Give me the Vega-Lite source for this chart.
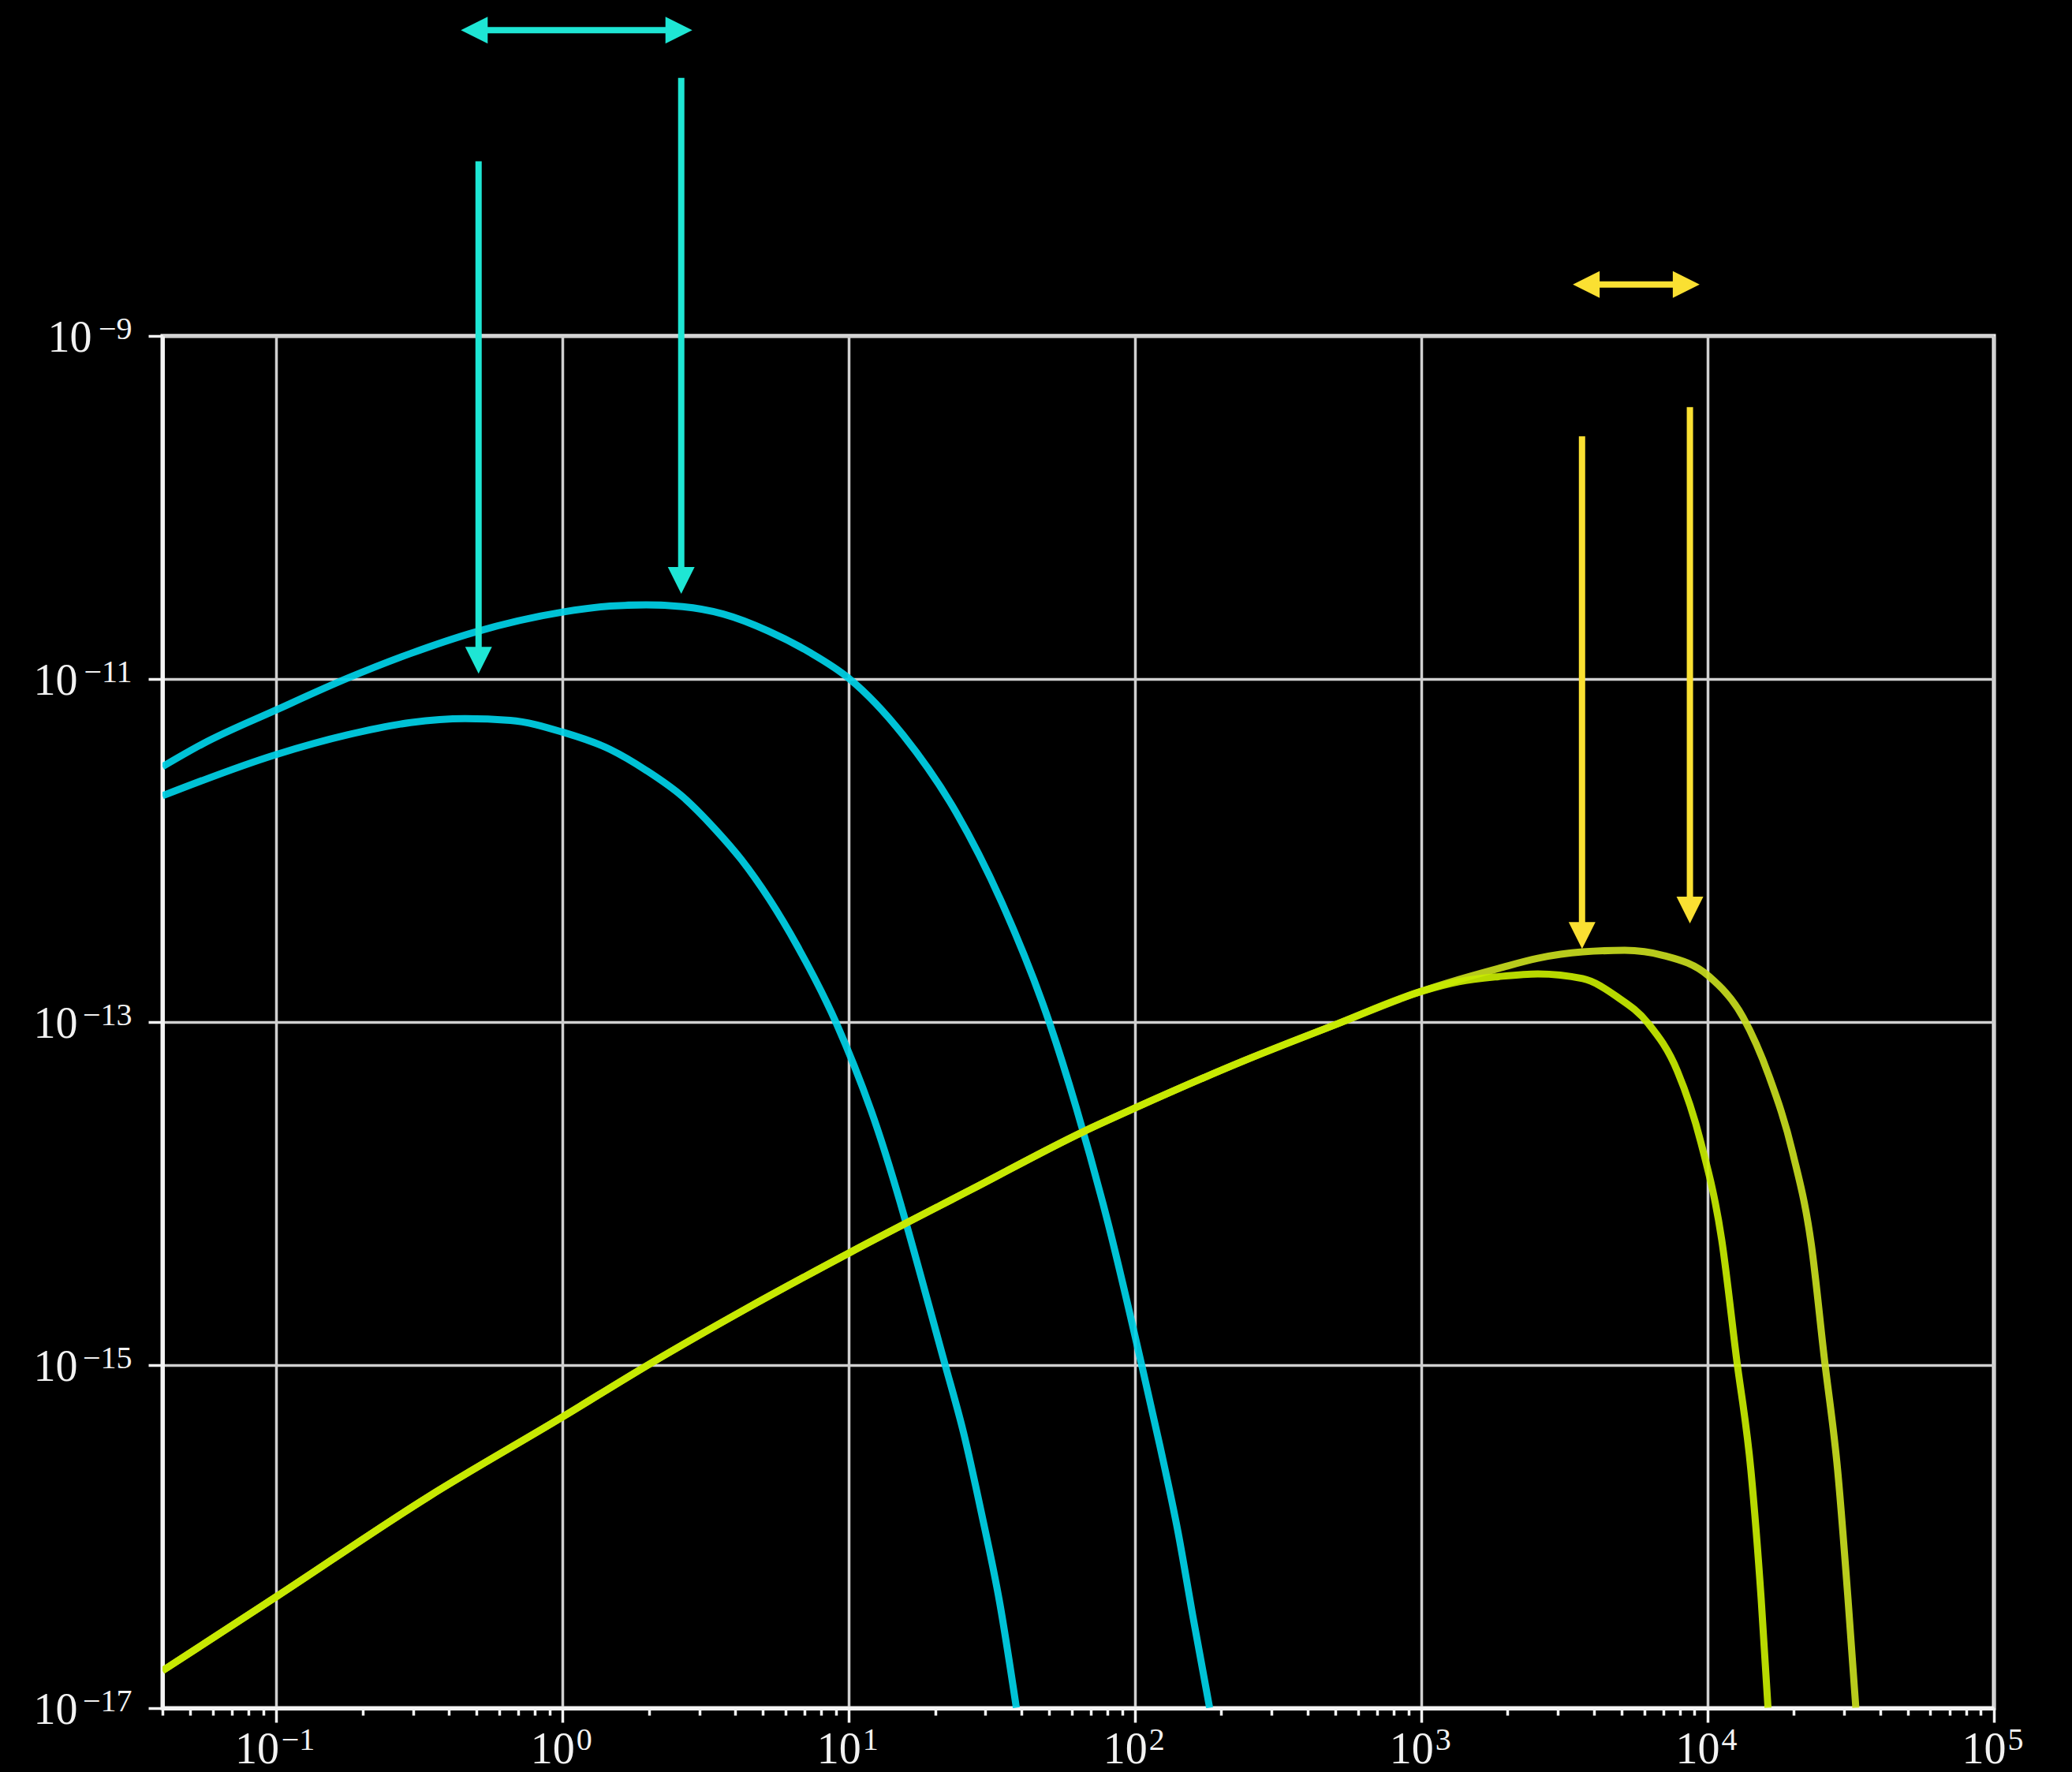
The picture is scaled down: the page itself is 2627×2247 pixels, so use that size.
{
  "$schema": "https://vega.github.io/schema/vega-lite/v6.json",
  "width": 2322,
  "height": 1740,
  "autosize": {"type": "none"},
  "padding": {"left": 206, "top": 426, "right": 99, "bottom": 81},
  "background": "#000000",
  "config": {
    "view": {"stroke": "#f4f4f4", "strokeWidth": 5},
    "axis": {
      "labelFont": "Liberation Serif",
      "labelColor": "#f2f2f2",
      "domainColor": "#f4f4f4",
      "domainWidth": 5,
      "tickColor": "#f4f4f4",
      "tickWidth": 3.5,
      "gridColor": "#d0d0d0",
      "gridWidth": 3.5,
      "labelOverlap": false,
      "labelFlush": false,
      "labelBound": false,
      "title": null
    }
  },
  "resolve": {"axis": {"x": "independent", "y": "independent"}},
  "datasets": {
    "curves": [
      {"series": "cyan-1", "x": 0.04, "y": 3.083e-12},
      {"series": "cyan-1", "x": 0.05513, "y": 4.178e-12},
      {"series": "cyan-1", "x": 0.1, "y": 6.607e-12},
      {"series": "cyan-1", "x": 0.1768, "y": 1.009e-11},
      {"series": "cyan-1", "x": 0.2944, "y": 1.409e-11},
      {"series": "cyan-1", "x": 0.4905, "y": 1.871e-11},
      {"series": "cyan-1", "x": 1.0, "y": 2.455e-11},
      {"series": "cyan-1", "x": 1.464, "y": 2.661e-11},
      {"series": "cyan-1", "x": 1.96, "y": 2.704e-11},
      {"series": "cyan-1", "x": 2.624, "y": 2.642e-11},
      {"series": "cyan-1", "x": 3.638, "y": 2.393e-11},
      {"series": "cyan-1", "x": 5.242, "y": 1.901e-11},
      {"series": "cyan-1", "x": 7.27, "y": 1.435e-11},
      {"series": "cyan-1", "x": 10.0, "y": 1.009e-11},
      {"series": "cyan-1", "x": 15.47, "y": 4.71e-12},
      {"series": "cyan-1", "x": 23.66, "y": 1.675e-12},
      {"series": "cyan-1", "x": 34.2, "y": 4.977e-13},
      {"series": "cyan-1", "x": 50.2, "y": 9.894e-14},
      {"series": "cyan-1", "x": 62.3, "y": 3.155e-14},
      {"series": "cyan-1", "x": 80.28, "y": 6.8e-15},
      {"series": "cyan-1", "x": 105.5, "y": 9.931e-16},
      {"series": "cyan-1", "x": 122.1, "y": 3.37e-16},
      {"series": "cyan-1", "x": 141.2, "y": 1.062e-16},
      {"series": "cyan-1", "x": 159.3, "y": 3.388e-17},
      {"series": "cyan-1", "x": 182.0, "y": 1.005e-17},

      {"series": "cyan-2", "x": 0.04, "y": 2.084e-12},
      {"series": "cyan-2", "x": 0.0995, "y": 3.622e-12},
      {"series": "cyan-2", "x": 0.1768, "y": 4.721e-12},
      {"series": "cyan-2", "x": 0.2944, "y": 5.572e-12},
      {"series": "cyan-2", "x": 0.456, "y": 5.875e-12},
      {"series": "cyan-2", "x": 0.6568, "y": 5.741e-12},
      {"series": "cyan-2", "x": 1.0, "y": 4.898e-12},
      {"series": "cyan-2", "x": 1.464, "y": 3.89e-12},
      {"series": "cyan-2", "x": 1.96, "y": 2.931e-12},
      {"series": "cyan-2", "x": 2.624, "y": 2.061e-12},
      {"series": "cyan-2", "x": 3.382, "y": 1.351e-12},
      {"series": "cyan-2", "x": 4.21, "y": 8.845e-13},
      {"series": "cyan-2", "x": 6.612, "y": 2.762e-13},
      {"series": "cyan-2", "x": 9.028, "y": 9.886e-14},
      {"series": "cyan-2", "x": 11.96, "y": 3.041e-14},
      {"series": "cyan-2", "x": 21.72, "y": 9.931e-16},
      {"series": "cyan-2", "x": 25.13, "y": 4.055e-16},
      {"series": "cyan-2", "x": 29.09, "y": 1.356e-16},
      {"series": "cyan-2", "x": 33.65, "y": 4.102e-17},
      {"series": "cyan-2", "x": 38.46, "y": 1.005e-17},

      {"series": "lime-2", "x": 0.04, "y": 1.652e-17},
      {"series": "lime-2", "x": 0.1, "y": 4.467e-17},
      {"series": "lime-2", "x": 0.34, "y": 1.71e-16},
      {"series": "lime-2", "x": 1.0, "y": 4.989e-16},
      {"series": "lime-2", "x": 2.03, "y": 1.023e-15},
      {"series": "lime-2", "x": 4.36, "y": 2.123e-15},
      {"series": "lime-2", "x": 10.0, "y": 4.498e-15},
      {"series": "lime-2", "x": 26.96, "y": 1.062e-14},
      {"series": "lime-2", "x": 66.53, "y": 2.312e-14},
      {"series": "lime-2", "x": 100.0, "y": 3.155e-14},
      {"series": "lime-2", "x": 240.7, "y": 5.957e-14},
      {"series": "lime-2", "x": 496.3, "y": 9.594e-14},
      {"series": "lime-2", "x": 1000, "y": 1.51e-13},
      {"series": "lime-2", "x": 1353, "y": 1.77e-13},
      {"series": "lime-2", "x": 1858, "y": 2.053e-13},
      {"series": "lime-2", "x": 2552, "y": 2.355e-13},
      {"series": "lime-2", "x": 3657, "y": 2.564e-13},
      {"series": "lime-2", "x": 5129, "y": 2.618e-13},
      {"series": "lime-2", "x": 7044, "y": 2.438e-13},
      {"series": "lime-2", "x": 10097, "y": 1.849e-13},
      {"series": "lime-2", "x": 13289, "y": 1.067e-13},
      {"series": "lime-2", "x": 16389, "y": 4.831e-14},
      {"series": "lime-2", "x": 19825, "y": 1.726e-14},
      {"series": "lime-2", "x": 23036, "y": 5.0e-15},
      {"series": "lime-2", "x": 25548, "y": 1.102e-15},
      {"series": "lime-2", "x": 28457, "y": 2.427e-16},
      {"series": "lime-2", "x": 30925, "y": 4.325e-17},
      {"series": "lime-2", "x": 32934, "y": 1.005e-17},

      {"series": "lime-1", "x": 0.04, "y": 1.652e-17},
      {"series": "lime-1", "x": 0.1, "y": 4.467e-17},
      {"series": "lime-1", "x": 0.34, "y": 1.71e-16},
      {"series": "lime-1", "x": 1.0, "y": 4.989e-16},
      {"series": "lime-1", "x": 2.03, "y": 1.023e-15},
      {"series": "lime-1", "x": 4.36, "y": 2.123e-15},
      {"series": "lime-1", "x": 10.0, "y": 4.498e-15},
      {"series": "lime-1", "x": 26.96, "y": 1.062e-14},
      {"series": "lime-1", "x": 66.53, "y": 2.312e-14},
      {"series": "lime-1", "x": 100.0, "y": 3.155e-14},
      {"series": "lime-1", "x": 240.7, "y": 5.957e-14},
      {"series": "lime-1", "x": 496.3, "y": 9.594e-14},
      {"series": "lime-1", "x": 1000, "y": 1.51e-13},
      {"series": "lime-1", "x": 1353, "y": 1.72e-13},
      {"series": "lime-1", "x": 1858, "y": 1.84e-13},
      {"series": "lime-1", "x": 2552, "y": 1.91e-13},
      {"series": "lime-1", "x": 3657, "y": 1.791e-13},
      {"series": "lime-1", "x": 4815, "y": 1.406e-13},
      {"series": "lime-1", "x": 6204, "y": 9.795e-14},
      {"series": "lime-1", "x": 7833, "y": 5.188e-14},
      {"series": "lime-1", "x": 9474, "y": 1.982e-14},
      {"series": "lime-1", "x": 11199, "y": 5.358e-15},
      {"series": "lime-1", "x": 12606, "y": 1.102e-15},
      {"series": "lime-1", "x": 14163, "y": 2.427e-16},
      {"series": "lime-1", "x": 15380, "y": 4.325e-17},
      {"series": "lime-1", "x": 16250, "y": 1.005e-17}
    ],
    "shafts": [
      {"group": "cyan-arrow", "x": 0.525, "x2": 2.371, "y": 6.062e-8, "y2": 6.062e-8},
      {"group": "cyan-arrow", "x": 0.5085, "x2": 0.5085, "y": 1.043e-8, "y2": 1.413e-11},
      {"group": "cyan-arrow", "x": 2.596, "x2": 2.596, "y": 3.193e-8, "y2": 4.169e-11},
      {"group": "yellow-arrow", "x": 4027, "x2": 7870, "y": 1.995e-9, "y2": 1.995e-9},
      {"group": "yellow-arrow", "x": 3640, "x2": 3640, "y": 2.598e-10, "y2": 3.548e-13},
      {"group": "yellow-arrow", "x": 8670, "x2": 8670, "y": 3.842e-10, "y2": 5.012e-13}
    ],
    "heads": [
      {"group": "cyan-arrow", "dir": "left", "x": 0.441, "y": 6.062e-8},
      {"group": "cyan-arrow", "dir": "right", "x": 2.837, "y": 6.062e-8},
      {"group": "cyan-arrow", "dir": "down", "x": 0.5085, "y": 1.074e-11},
      {"group": "cyan-arrow", "dir": "down", "x": 2.596, "y": 3.139e-11},
      {"group": "yellow-arrow", "dir": "left", "x": 3381, "y": 1.995e-9},
      {"group": "yellow-arrow", "dir": "right", "x": 9374, "y": 1.995e-9},
      {"group": "yellow-arrow", "dir": "down", "x": 3640, "y": 2.667e-13},
      {"group": "yellow-arrow", "dir": "down", "x": 8670, "y": 3.753e-13}
    ]
  },
  "layer": [
    {
      "data": {"name": "curves"},
      "mark": {"type": "line", "strokeWidth": 9, "interpolate": "monotone", "clip": true, "opacity": 0.92, "strokeCap": "butt"},
      "encoding": {
        "x": {
          "field": "x",
          "type": "quantitative",
          "scale": {"type": "log", "domain": [0.04, 100000], "nice": false},
          "axis": {
            "orient": "bottom",
            "values": [0.04, 0.05, 0.06, 0.07, 0.08, 0.09, 0.1, 0.2, 0.3, 0.4, 0.5, 0.6, 0.7, 0.8, 0.9, 1, 2, 3, 4, 5, 6, 7, 8, 9, 10, 20, 30, 40, 50, 60, 70, 80, 90, 100, 200, 300, 400, 500, 600, 700, 800, 900, 1000, 2000, 3000, 4000, 5000, 6000, 7000, 8000, 9000, 10000, 20000, 30000, 40000, 50000, 60000, 70000, 80000, 90000, 100000],
            "grid": true,
            "gridOpacity": {"condition": {"test": "indexof([0.1, 1, 10, 100, 1000, 10000, 100000], datum.value) >= 0", "value": 1}, "value": 0},
            "tickSize": {"condition": {"test": "indexof([0.1, 1, 10, 100, 1000, 10000, 100000], datum.value) >= 0", "value": 18}, "value": 9},
            "labelFontSize": 56,
            "labelBaseline": "alphabetic",
            "labelAlign": "center",
            "labelPadding": 51,
            "labelOffset": {"condition": {"test": "datum.value == 0.1", "value": -25}, "value": -13},
            "labelExpr": "indexof([0.1, 1, 10, 100, 1000, 10000, 100000], datum.value) >= 0 ? '10' : ''"
          }
        },
        "y": {
          "field": "y",
          "type": "quantitative",
          "scale": {"type": "log", "domain": [1e-17, 1e-9], "nice": false},
          "axis": {
            "orient": "left",
            "values": [1e-9, 1e-11, 1e-13, 1e-15, 1e-17],
            "grid": true,
            "tickSize": 18,
            "labelFontSize": 56,
            "labelAlign": "right",
            "labelBaseline": "alphabetic",
            "labelOffset": 19,
            "labelPadding": {"condition": {"test": "datum.value == 1e-9", "value": 72}, "value": 90},
            "labelExpr": "'10'"
          }
        },
        "color": {
          "field": "series",
          "type": "nominal",
          "scale": {
            "domain": ["cyan-1", "cyan-2", "lime-1", "lime-2", "cyan-arrow", "yellow-arrow"],
            "range": ["#00d2e8", "#00d2e8", "#c8ec00", "#c8dc1e", "#1ee6d4", "#fae032"]
          },
          "legend": null
        },
        "order": {"field": "x", "type": "quantitative"}
      }
    },
    {
      "data": {"name": "shafts"},
      "mark": {"type": "rule", "strokeWidth": 8, "strokeCap": "butt"},
      "encoding": {
        "x": {"field": "x", "type": "quantitative", "axis": null},
        "x2": {"field": "x2"},
        "y": {"field": "y", "type": "quantitative", "axis": null},
        "y2": {"field": "y2"},
        "color": {"field": "group", "type": "nominal", "legend": null}
      }
    },
    {
      "data": {"name": "heads"},
      "mark": {"type": "point", "filled": true, "size": 1156, "opacity": 1, "strokeWidth": 0},
      "encoding": {
        "x": {
          "field": "x",
          "type": "quantitative",
          "axis": {
            "orient": "bottom",
            "values": [0.1, 1, 10, 100, 1000, 10000, 100000],
            "grid": false,
            "domain": false,
            "tickSize": 18,
            "tickOpacity": 0,
            "labelFontSize": 40,
            "labelBaseline": "alphabetic",
            "labelAlign": "center",
            "labelPadding": 34,
            "labelOffset": 27,
            "labelExpr": "datum.value == 0.1 ? '−1' : datum.value == 1 ? '0' : datum.value == 10 ? '1' : datum.value == 100 ? '2' : datum.value == 1000 ? '3' : datum.value == 10000 ? '4' : '5'"
          }
        },
        "y": {
          "field": "y",
          "type": "quantitative",
          "axis": {
            "orient": "left",
            "values": [1e-9, 1e-11, 1e-13, 1e-15, 1e-17],
            "grid": false,
            "domain": false,
            "tickSize": 18,
            "tickOpacity": 0,
            "labelFontSize": 40,
            "labelAlign": "right",
            "labelBaseline": "alphabetic",
            "labelOffset": 3,
            "labelPadding": 21,
            "labelExpr": "datum.value == 1e-9 ? '−9' : datum.value == 1e-11 ? '−11' : datum.value == 1e-13 ? '−13' : datum.value == 1e-15 ? '−15' : '−17'"
          }
        },
        "color": {"field": "group", "type": "nominal", "legend": null},
        "shape": {
          "field": "dir",
          "type": "nominal",
          "scale": {"domain": ["down", "left", "right"], "range": ["M0,0L-1,-2L1,-2Z", "M0,0L2,-1L2,1Z", "M0,0L-2,-1L-2,1Z"]},
          "legend": null
        }
      }
    }
  ]
}
